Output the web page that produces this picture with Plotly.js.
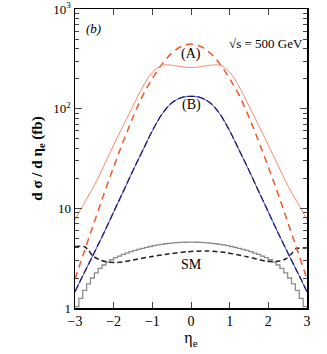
<!DOCTYPE html>
<html>
<head>
<meta charset="utf-8">
<script src="https://cdn.plot.ly/plotly-3.0.1.min.js"></script>
<style>
  body { margin: 0; background: #fff; }
  #plot { width: 327px; height: 354px; }
</style>
</head>
<body>
<div id="plot"></div>
<script>
// eta grid for the smooth curves
var eta = [-3, -2.75, -2.5, -2.25, -2, -1.75, -1.5, -1.25, -1, -0.75, -0.5, -0.25, 0,
           0.25, 0.5, 0.75, 1, 1.25, 1.5, 1.75, 2, 2.25, 2.5, 2.75, 3];

// (A) thin solid and (A) dashed
var aSolid = [7.7, 11.5, 17, 27, 43, 68, 106, 165, 232, 272, 273, 264, 258,
              264, 273, 272, 232, 165, 106, 68, 43, 27, 17, 11.5, 7.7];
var aDash = [1.95, 3.8, 7.3, 14, 26, 47, 82, 135, 200, 280, 360, 420, 445,
             420, 360, 280, 200, 135, 82, 47, 26, 14, 7.3, 3.8, 1.95];

// (B)
var bCurve = [1.46, 2.3, 3.6, 5.7, 9.2, 14.8, 24, 38, 60, 88, 114, 129, 133,
              129, 114, 88, 60, 38, 24, 14.8, 9.2, 5.7, 3.6, 2.3, 1.46];

// SM histogram (bins of 0.1 from -3 to 3)
var smEdges = [];
for (var i = 0; i <= 60; i++) smEdges.push(Math.round((-3 + i * 0.1) * 10) / 10);
var smHalf = [1.03, 1.25, 1.5, 1.75, 2.0, 2.25, 2.5, 2.7, 2.88, 3.05,
              3.2, 3.32, 3.45, 3.56, 3.67, 3.78, 3.88, 3.97, 4.06, 4.14,
              4.22, 4.29, 4.35, 4.41, 4.46, 4.5, 4.53, 4.55, 4.57, 4.58];
var smHist = smHalf.concat(smHalf.slice().reverse());
smHist.push(smHist[smHist.length - 1]);

// SM dashed
var smDashEta = [-3, -2.75, -2.65, -2.55, -2.35, -2.1, -1.85, -1.5, -1.05, -0.6, -0.1,
                 0.4, 0.9, 1.45, 1.95, 2.2, 2.45, 2.6, 2.7, 2.8, 3];
var smDash = [4.15, 4.12, 3.8, 3.35, 3.03, 2.87, 2.87, 3.03, 3.27, 3.48, 3.67,
              3.74, 3.6, 3.27, 2.95, 2.93, 3.1, 3.5, 3.9, 4.0, 4.0];

var serif = 'Liberation Serif, Times New Roman, serif';

var data = [
    { x: smEdges, y: smHist, mode: 'lines', line: { shape: 'hv', color: '#8c8c8c', width: 1.3 } },
    { x: smDashEta, y: smDash, mode: 'lines', line: { shape: 'spline', smoothing: 0.6, color: '#222', width: 1.5, dash: '5px,3px' } },
    { x: eta, y: bCurve, mode: 'lines', line: { shape: 'spline', color: '#4a4ad0', width: 1 } },
    { x: eta, y: bCurve, mode: 'lines', line: { shape: 'spline', color: '#1c1c70', width: 1.3, dash: '7px,3px' } },
    { x: eta, y: aDash, mode: 'lines', line: { shape: 'spline', color: '#f0582a', width: 1.5, dash: '7px,5px' } },
    { x: eta, y: aSolid, mode: 'lines', line: { shape: 'spline', color: '#f88a6a', width: 1 } }
];

var layout = {
    width: 327,
    height: 354,
    showlegend: false,
    paper_bgcolor: '#fff',
    plot_bgcolor: '#fff',
    margin: { l: 75, r: 20, t: 9, b: 46, pad: 0 },
    font: { family: serif, color: '#000', size: 13 },
    xaxis: {
        range: [-3, 3],
        tickvals: [-3, -2, -1, 0, 1, 2, 3],
        ticks: 'inside',
        ticklen: 6,
        tickwidth: 1,
        showline: true,
        linewidth: 1.5,
        linecolor: '#000',
        mirror: 'allticks',
        showgrid: false,
        zeroline: false,
        tickfont: { family: serif, size: 14 },
        title: { text: 'η<sub>e</sub>', font: { family: serif, size: 16 }, standoff: 2 }
    },
    yaxis: {
        type: 'log',
        range: [0, 3],
        tickvals: [1, 10, 100, 1000],
        ticktext: ['1', '10', '10<sup>2</sup>', '10<sup>3</sup>'],
        ticks: 'inside',
        ticklen: 7,
        tickwidth: 1,
        minor: { ticks: 'inside', ticklen: 4, dtick: 'D1', showgrid: false },
        showline: true,
        linewidth: 1.5,
        linecolor: '#000',
        mirror: 'allticks',
        showgrid: false,
        zeroline: false,
        tickfont: { family: serif, size: 13 },
        title: { text: '<b>d σ / d η<sub>e</sub> (fb)</b>', font: { family: serif, size: 15 }, standoff: 7 }
    },
    annotations: [
        { x: 0.04, y: 0.965, xref: 'paper', yref: 'paper', xanchor: 'left', yanchor: 'top',
          text: '<i>(b)</i>', showarrow: false, font: { family: serif, size: 13 } },
        { x: 0.99, y: 0.885, xref: 'paper', yref: 'paper', xanchor: 'right', yanchor: 'middle',
          text: '√s = 500 GeV', showarrow: false, font: { family: serif, size: 13 } },
        { x: 0, y: Math.log10(350), text: '(A)', showarrow: false, font: { family: serif, size: 14 } },
        { x: 0, y: Math.log10(108), text: '(B)', showarrow: false, font: { family: serif, size: 14 } },
        { x: 0, y: Math.log10(2.75), text: 'SM', showarrow: false, font: { family: serif, size: 14 } }
    ]
};

Plotly.newPlot('plot', data, layout, { displayModeBar: false, staticPlot: true });
</script>
</body>
</html>
